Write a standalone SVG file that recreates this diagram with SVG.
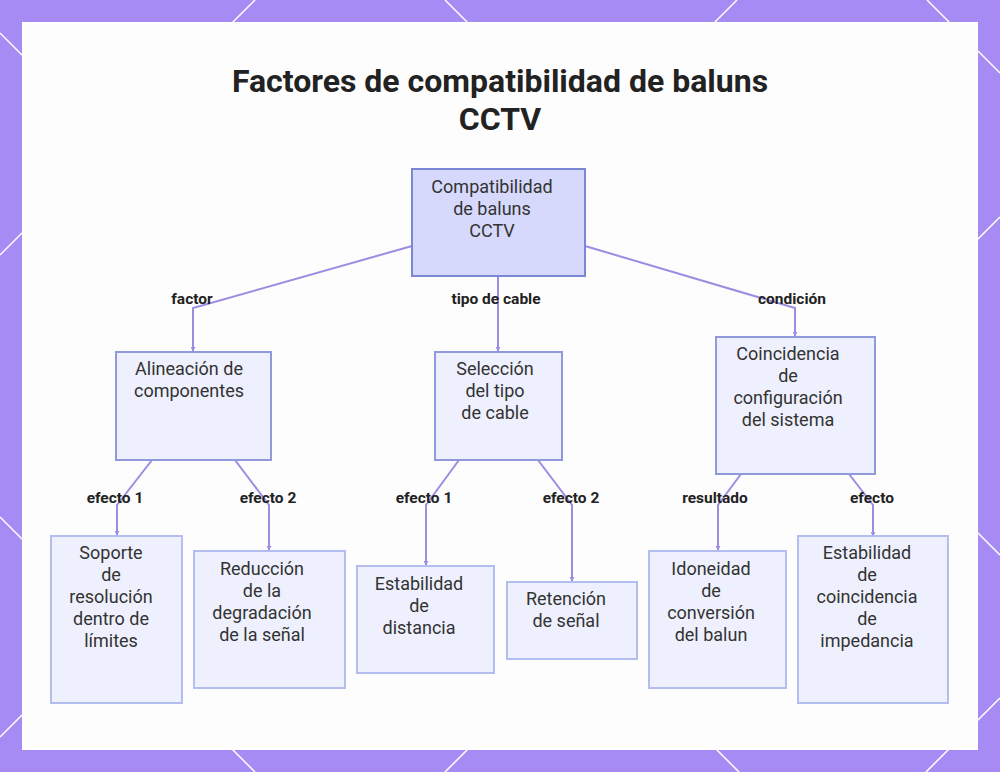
<svg xmlns="http://www.w3.org/2000/svg" width="1000" height="772" viewBox="0 0 1000 772">
<defs>
<style>
.title{font-family:Roboto,"Liberation Sans",sans-serif;font-weight:700;font-size:32px;fill:#222;text-anchor:middle}
.nt{font-family:Roboto,"Liberation Sans",sans-serif;font-size:18px;fill:#333;text-anchor:middle}
.lb{font-family:Roboto,"Liberation Sans",sans-serif;font-weight:700;font-size:15.5px;fill:#222;text-anchor:middle}
.root{fill:#d6d9fb;stroke:#7b86d4;stroke-width:2}
.n1{fill:#eef0fd;stroke:#8f99dc;stroke-width:2}
.n2{fill:#eef1fd;stroke:#b4bdf0;stroke-width:2}
.ed{fill:none;stroke:#9e8be2;stroke-width:2}
.bgl{stroke:#ffffff;stroke-width:1.5}
</style>
<marker id="ah" viewBox="0 0 6 6" refX="5" refY="3" markerWidth="2.5" markerHeight="2.5" orient="auto"><path d="M0,0 L6,3 L0,6 z" fill="#9e8be2"/></marker>
</defs>
<rect x="0" y="0" width="1000" height="772" fill="#a68bf5"/>
<g id="bg-lines">
<line class="bgl" x1="255" y1="0" x2="0" y2="255"/>
<line class="bgl" x1="737" y1="0" x2="0" y2="737"/>
<line class="bgl" x1="1000" y1="217" x2="445" y2="772"/>
<line class="bgl" x1="1000" y1="698" x2="926" y2="772"/>
<line class="bgl" x1="0" y1="517" x2="255" y2="772"/>
<line class="bgl" x1="0" y1="33" x2="739" y2="772"/>
<line class="bgl" x1="445" y1="0" x2="1000" y2="555"/>
<line class="bgl" x1="927" y1="0" x2="1000" y2="73"/>
</g>
<rect x="22" y="22" width="956" height="728" fill="#ffffff"/>
<rect x="24" y="24" width="952" height="724" fill="#fbfbfb" opacity="0.6"/>
<g id="title">
<text class="title" x="500" y="92">Factores de compatibilidad de baluns</text>
<text class="title" x="500" y="130">CCTV</text>
</g>
<g id="connectors">
<polyline class="ed" points="412,246 193,308 193,351" marker-end="url(#ah)"/>
<polyline class="ed" points="498,276 498,351" marker-end="url(#ah)"/>
<polyline class="ed" points="585,246 795,308 795,336" marker-end="url(#ah)"/>
<polyline class="ed" points="152,460 117,505 117,535" marker-end="url(#ah)"/>
<polyline class="ed" points="235,460 269,505 269,550" marker-end="url(#ah)"/>
<polyline class="ed" points="459,460 426,505 426,565" marker-end="url(#ah)"/>
<polyline class="ed" points="538,460 572,505 572,581" marker-end="url(#ah)"/>
<polyline class="ed" points="741,474 718,505 718,550" marker-end="url(#ah)"/>
<polyline class="ed" points="849,474 873,505 873,536" marker-end="url(#ah)"/>
<text class="lb" x="192" y="304">factor</text>
<text class="lb" x="496" y="304">tipo de cable</text>
<text class="lb" x="792" y="304">condición</text>
<text class="lb" x="115" y="503">efecto 1</text>
<text class="lb" x="268" y="503">efecto 2</text>
<text class="lb" x="424" y="503">efecto 1</text>
<text class="lb" x="571" y="503">efecto 2</text>
<text class="lb" x="715" y="503">resultado</text>
<text class="lb" x="872" y="503">efecto</text>
</g>
<g id="n-root">
<rect class="root" x="412" y="169" width="173" height="107"/>
<text class="nt" x="492" y="193">Compatibilidad</text>
<text class="nt" x="492" y="215">de baluns</text>
<text class="nt" x="492" y="237">CCTV</text>
</g>
<g id="n-alineacion">
<rect class="n1" x="116" y="352" width="155" height="108"/>
<text class="nt" x="189" y="375">Alineación de</text>
<text class="nt" x="189" y="397">componentes</text>
</g>
<g id="n-seleccion">
<rect class="n1" x="435" y="352" width="127" height="108"/>
<text class="nt" x="495" y="375">Selección</text>
<text class="nt" x="495" y="397">del tipo</text>
<text class="nt" x="495" y="419">de cable</text>
</g>
<g id="n-coincidencia">
<rect class="n1" x="716" y="337" width="159" height="137"/>
<text class="nt" x="788" y="360">Coincidencia</text>
<text class="nt" x="788" y="382">de</text>
<text class="nt" x="788" y="404">configuración</text>
<text class="nt" x="788" y="426">del sistema</text>
</g>
<g id="n-soporte">
<rect class="n2" x="51" y="536" width="131" height="167"/>
<text class="nt" x="111" y="559">Soporte</text>
<text class="nt" x="111" y="581">de</text>
<text class="nt" x="111" y="603">resolución</text>
<text class="nt" x="111" y="625">dentro de</text>
<text class="nt" x="111" y="647">límites</text>
</g>
<g id="n-reduccion">
<rect class="n2" x="194" y="551" width="151" height="137"/>
<text class="nt" x="262" y="575">Reducción</text>
<text class="nt" x="262" y="597">de la</text>
<text class="nt" x="262" y="619">degradación</text>
<text class="nt" x="262" y="641">de la señal</text>
</g>
<g id="n-estab-dist">
<rect class="n2" x="357" y="566" width="137" height="107"/>
<text class="nt" x="419" y="590">Estabilidad</text>
<text class="nt" x="419" y="612">de</text>
<text class="nt" x="419" y="634">distancia</text>
</g>
<g id="n-retencion">
<rect class="n2" x="507" y="582" width="130" height="77"/>
<text class="nt" x="566" y="605">Retención</text>
<text class="nt" x="566" y="627">de señal</text>
</g>
<g id="n-idoneidad">
<rect class="n2" x="649" y="551" width="137" height="137"/>
<text class="nt" x="711" y="575">Idoneidad</text>
<text class="nt" x="711" y="597">de</text>
<text class="nt" x="711" y="619">conversión</text>
<text class="nt" x="711" y="641">del balun</text>
</g>
<g id="n-estab-imp">
<rect class="n2" x="798" y="536" width="150" height="167"/>
<text class="nt" x="867" y="559">Estabilidad</text>
<text class="nt" x="867" y="581">de</text>
<text class="nt" x="867" y="603">coincidencia</text>
<text class="nt" x="867" y="625">de</text>
<text class="nt" x="867" y="647">impedancia</text>
</g>
</svg>
